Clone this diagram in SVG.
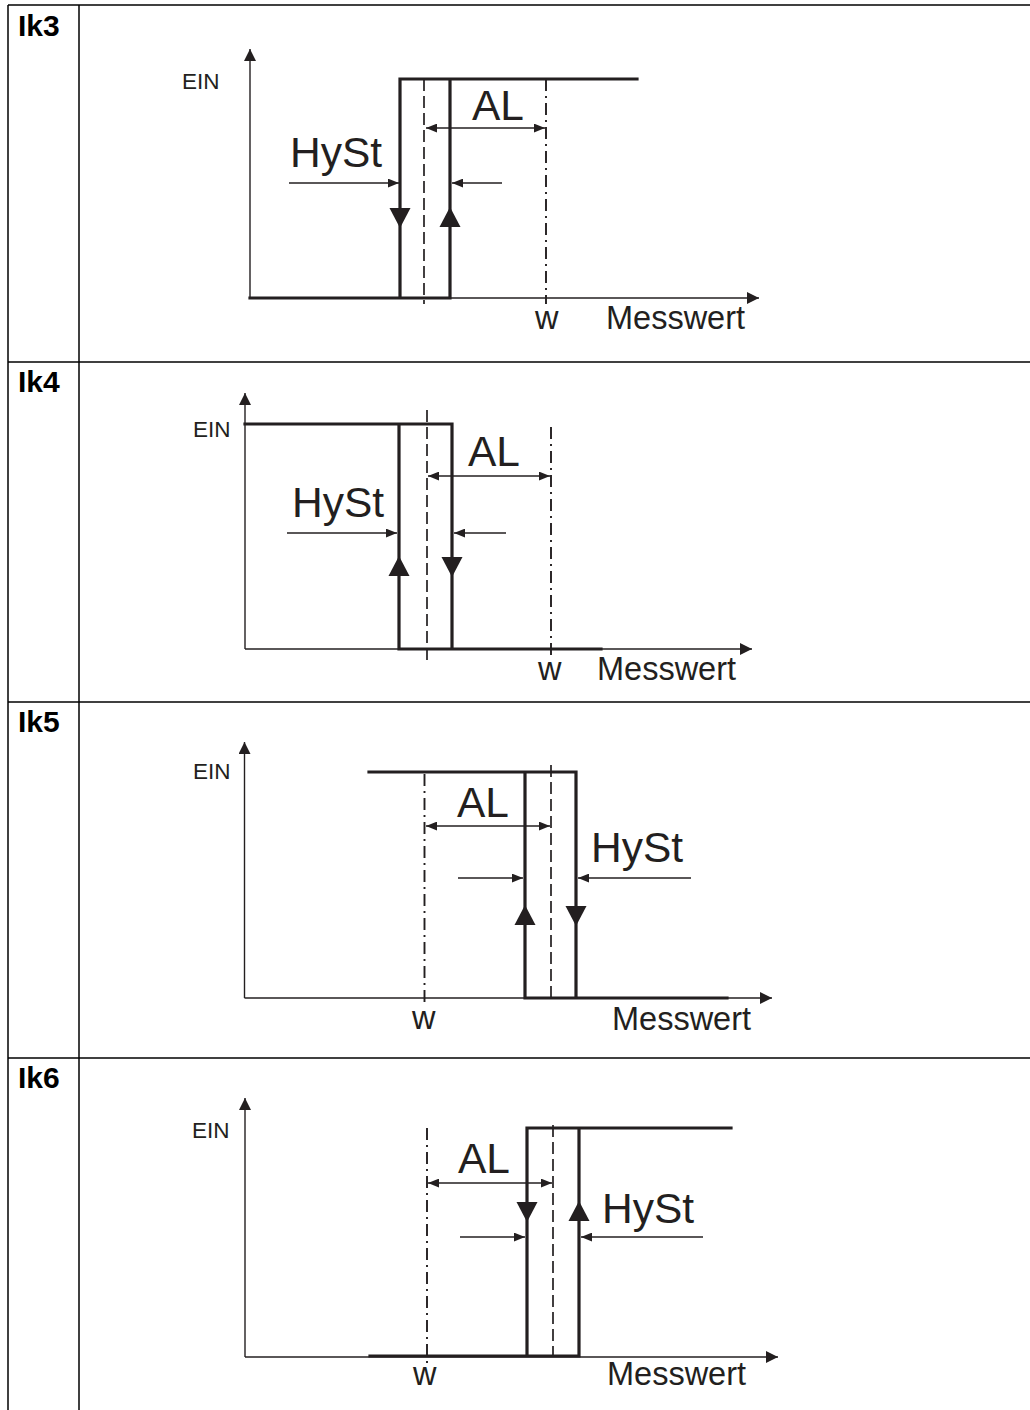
<svg xmlns="http://www.w3.org/2000/svg" width="1030" height="1410" viewBox="0 0 1030 1410">
<style>
.grid{stroke:#000;stroke-width:1.5;fill:none}
.axis{stroke:#231f20;stroke-width:1.4;fill:none;marker-end:url(#axArr)}
.thick{stroke:#231f20;stroke-width:3.2;fill:none;stroke-linejoin:miter;stroke-linecap:square}
.dash{stroke:#231f20;stroke-width:1.7;fill:none;stroke-dasharray:12 5}
.dashdot{stroke:#231f20;stroke-width:1.9;fill:none;stroke-dasharray:12 5 2 5}
.dim{stroke:#231f20;stroke-width:1.3;fill:none;marker-end:url(#dimArr)}
.dbl{stroke:#231f20;stroke-width:1.3;fill:none;marker-start:url(#dimArr);marker-end:url(#dimArr)}
.tri{fill:#231f20}
.lbl{font-family:"Liberation Sans",Arial,sans-serif;font-weight:bold;font-size:30px;fill:#000}
.ein{font-family:"Liberation Sans",Arial,sans-serif;font-size:22.5px;fill:#231f20}
.big{font-family:"Liberation Sans",Arial,sans-serif;font-size:42.5px;fill:#231f20}
.mid{font-family:"Liberation Sans",Arial,sans-serif;font-size:32.5px;fill:#231f20}
</style>
<defs>
<marker id="axArr" markerUnits="userSpaceOnUse" markerWidth="12" markerHeight="12" viewBox="0 0 11 11" refX="11" refY="5.5" orient="auto"><path d="M0,0 L11,5.5 L0,11 z" fill="#231f20"/></marker>
<marker id="dimArr" markerUnits="userSpaceOnUse" markerWidth="11" markerHeight="9" viewBox="0 0 10 8" refX="10" refY="4" orient="auto-start-reverse"><path d="M0,0 L10,4 L0,8 z" fill="#231f20"/></marker>
<path id="triDown" d="M-10.5,0 L10.5,0 L0,20 z"/>
<path id="triUp" d="M-10.5,0 L10.5,0 L0,-20 z"/>
</defs>
<rect width="1030" height="1410" fill="#fff"/>
<g id="table" class="grid">
<line x1="8" y1="5" x2="1030" y2="5"/>
<line x1="8" y1="5" x2="8" y2="1410"/>
<line x1="79" y1="5" x2="79" y2="1410"/>
<line x1="8" y1="362" x2="1030" y2="362"/>
<line x1="8" y1="702" x2="1030" y2="702"/>
<line x1="8" y1="1058" x2="1030" y2="1058"/>
</g>
<g id="labels">
<text class="lbl" x="18" y="36">Ik3</text>
<text class="lbl" x="18" y="392">Ik4</text>
<text class="lbl" x="18" y="732">Ik5</text>
<text class="lbl" x="18" y="1088">Ik6</text>
</g>
<g id="ik3">
<line class="axis" x1="250" y1="298" x2="250" y2="49"/>
<line class="axis" x1="250" y1="298" x2="759" y2="298"/>
<path class="thick" d="M250,298 H450 V79 M400,298 V79 H637"/>
<line class="dash" x1="424" y1="79" x2="424" y2="304"/>
<line class="dashdot" x1="546" y1="79" x2="546" y2="304"/>
<line class="dbl" x1="426" y1="128" x2="545" y2="128"/>
<line class="dim" x1="289" y1="183" x2="399" y2="183"/>
<line class="dim" x1="502" y1="183" x2="452" y2="183"/>
<use href="#triDown" class="tri" x="400" y="208"/>
<use href="#triUp" class="tri" x="450" y="227"/>
<text class="ein" x="182" y="89">EIN</text>
<text class="big" x="472" y="120">AL</text>
<text class="big" x="290" y="167">HySt</text>
<text class="mid" x="535" y="329">w</text>
<text class="mid" x="606" y="329">Messwert</text>
</g>
<g id="ik4">
<line class="axis" x1="245" y1="649" x2="245" y2="393"/>
<line class="axis" x1="245" y1="649" x2="752" y2="649"/>
<path class="thick" d="M245,424 H452 V649 M399,424 V649 H601"/>
<line class="dash" x1="427" y1="410" x2="427" y2="663"/>
<line class="dashdot" x1="551" y1="427" x2="551" y2="657"/>
<line class="dbl" x1="428" y1="476" x2="550" y2="476"/>
<line class="dim" x1="287" y1="533" x2="397" y2="533"/>
<line class="dim" x1="506" y1="533" x2="454" y2="533"/>
<use href="#triUp" class="tri" x="399" y="576"/>
<use href="#triDown" class="tri" x="452" y="557"/>
<text class="ein" x="193" y="437">EIN</text>
<text class="big" x="468" y="466">AL</text>
<text class="big" x="292" y="517">HySt</text>
<text class="mid" x="538" y="680">w</text>
<text class="mid" x="597" y="680">Messwert</text>
</g>
<g id="ik5">
<line class="axis" x1="244.5" y1="998" x2="244.5" y2="742"/>
<line class="axis" x1="244.5" y1="998" x2="772" y2="998"/>
<path class="thick" d="M369,772 H576 V998 M525,772 V998 H727"/>
<line class="dashdot" x1="424.5" y1="774" x2="424.5" y2="1004"/>
<line class="dash" x1="551" y1="765" x2="551" y2="1000"/>
<line class="dbl" x1="426" y1="826" x2="550" y2="826"/>
<line class="dim" x1="458" y1="878" x2="523" y2="878"/>
<line class="dim" x1="691" y1="878" x2="578" y2="878"/>
<use href="#triUp" class="tri" x="525" y="925"/>
<use href="#triDown" class="tri" x="576" y="906"/>
<text class="ein" x="193" y="779">EIN</text>
<text class="big" x="457" y="817">AL</text>
<text class="big" x="591" y="862">HySt</text>
<text class="mid" x="412" y="1029">w</text>
<text class="mid" x="612" y="1030">Messwert</text>
</g>
<g id="ik6">
<line class="axis" x1="245" y1="1357" x2="245" y2="1098"/>
<line class="axis" x1="245" y1="1357" x2="778" y2="1357"/>
<path class="thick" d="M370,1356 H579 V1128 M527,1356 V1128 H731"/>
<line class="dash" x1="553" y1="1125" x2="553" y2="1355"/>
<line class="dashdot" x1="427" y1="1128" x2="427" y2="1363"/>
<line class="dbl" x1="428" y1="1183" x2="552" y2="1183"/>
<line class="dim" x1="460" y1="1237" x2="525" y2="1237"/>
<line class="dim" x1="703" y1="1237" x2="581" y2="1237"/>
<use href="#triDown" class="tri" x="527" y="1202"/>
<use href="#triUp" class="tri" x="579" y="1221"/>
<text class="ein" x="192" y="1138">EIN</text>
<text class="big" x="458" y="1173">AL</text>
<text class="big" x="602" y="1223">HySt</text>
<text class="mid" x="413" y="1385">w</text>
<text class="mid" x="607" y="1385">Messwert</text>
</g>
</svg>
